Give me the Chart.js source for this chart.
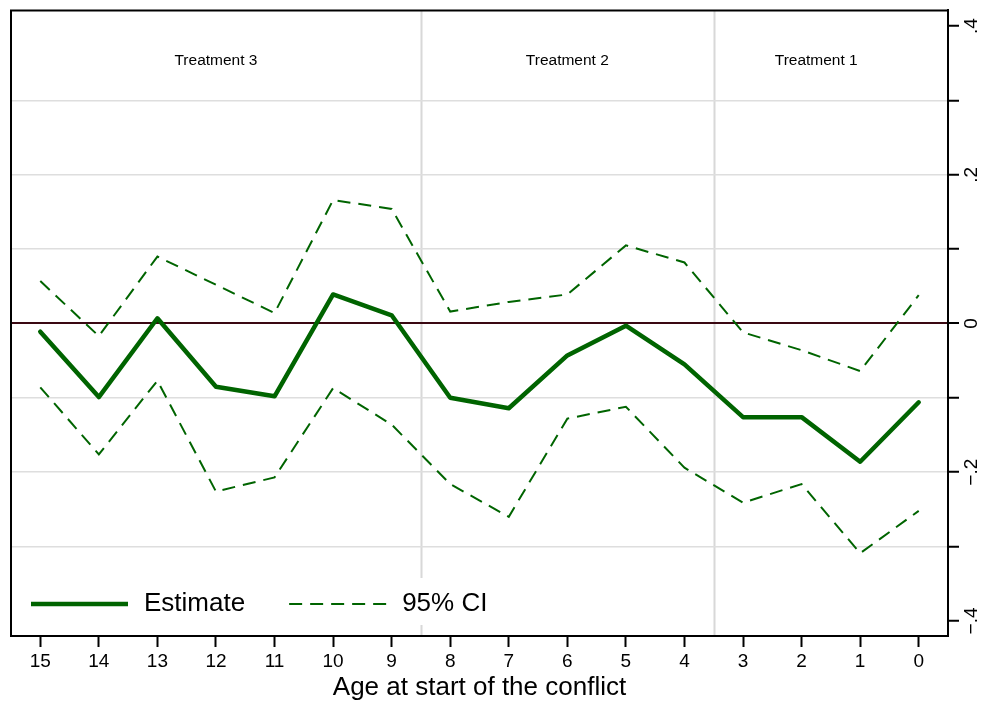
<!DOCTYPE html>
<html>
<head>
<meta charset="utf-8">
<script src="https://cdn.jsdelivr.net/npm/chart.js@4/dist/chart.umd.min.js"></script>
<style>
  html, body { margin: 0; padding: 0; background: #ffffff; }
  #wrap { width: 984px; height: 704px; position: relative; }
</style>
</head>
<body>
<div id="wrap"><canvas id="chart" width="984" height="704"></canvas></div>
<script>
// ---------------- data ----------------
const ages = ['15','14','13','12','11','10','9','8','7','6','5','4','3','2','1','0'];
const estimate = [-0.011, -0.099, 0.007, -0.085, -0.098, 0.039, 0.011, -0.100, -0.114, -0.043, -0.003, -0.055, -0.126, -0.126, -0.186, -0.106];
const ciUpper  = [0.057, -0.017, 0.090, 0.052, 0.014, 0.166, 0.154, 0.016, 0.029, 0.039, 0.105, 0.082, -0.012, -0.036, -0.064, 0.038];
const ciLower  = [-0.086, -0.176, -0.077, -0.226, -0.207, -0.087, -0.136, -0.216, -0.260, -0.128, -0.112, -0.194, -0.241, -0.216, -0.309, -0.252];
const yTickValues = [-0.4, -0.3, -0.2, -0.1, 0, 0.1, 0.2, 0.3, 0.4];
const yTickLabels = ['\u2212.4', '', '\u2212.2', '', '0', '', '.2', '', '.4'];
const groupNames = ['Treatment 3', 'Treatment 2', 'Treatment 1'];
const groupLabelAt = [3, 9, 13.25];      // category-index positions of the group captions
const groupBreaks = [6.5, 11.5];          // between age 9|8 and age 4|3
const xTitle = 'Age at start of the conflict';

// ---------------- styles ----------------
const FONT = '"Liberation Sans", Arial, Helvetica, sans-serif';
const GREEN = '#006400';
const ZERO = '#3a0812';
const GRID = '#dedede';
const SEP = '#d8d8d8';

Chart.defaults.font.family = FONT;
Chart.defaults.color = '#000';

const decor = {
  id: 'decor',
  beforeDraw(chart) {
    const {ctx, chartArea: a, scales: {x}} = chart;
    ctx.save();
    // group separators
    ctx.strokeStyle = SEP;
    ctx.lineWidth = 2;
    groupBreaks.forEach(b => {
      const px = Math.round(x.getPixelForValue(b)) + 0.5;
      ctx.beginPath();
      ctx.moveTo(px, a.top);
      ctx.lineTo(px, a.bottom);
      ctx.stroke();
    });
    // group captions
    ctx.fillStyle = '#000';
    ctx.font = '15.5px ' + FONT;
    ctx.textAlign = 'center';
    ctx.textBaseline = 'middle';
    groupNames.forEach((n, i) => {
      ctx.fillText(n, x.getPixelForValue(groupLabelAt[i]), 61);
    });
    ctx.restore();
  },
  beforeDatasetsDraw(chart) {
    const {ctx, chartArea: a} = chart;
    ctx.save();
    // legend background
    ctx.fillStyle = '#ffffff';
    ctx.fillRect(a.left + 1, 578, 494, 47);
    // legend items (from datasets)
    const items = chart.data.datasets.filter(d => !d.hideInLegend);
    ctx.font = '26px ' + FONT;
    ctx.textBaseline = 'middle';
    ctx.textAlign = 'left';
    let cx = a.left + 20;
    const cy = 604;
    const sampleLen = 97;
    items.forEach(d => {
      ctx.strokeStyle = d.borderColor;
      ctx.lineWidth = d.borderWidth;
      ctx.setLineDash(d.borderDash || []);
      ctx.beginPath();
      ctx.moveTo(cx, cy);
      ctx.lineTo(cx + sampleLen, cy);
      ctx.stroke();
      ctx.setLineDash([]);
      cx += sampleLen + 16;
      ctx.fillStyle = '#000';
      ctx.fillText(d.label, cx, cy);
      cx += ctx.measureText(d.label).width + 44;
    });
    ctx.restore();
  },
  afterDraw(chart) {
    const {ctx, chartArea: a} = chart;
    ctx.save();
    ctx.strokeStyle = '#000';
    ctx.lineWidth = 2;
    ctx.beginPath();
    ctx.moveTo(a.left, a.bottom);
    ctx.lineTo(a.left, a.top);
    ctx.lineTo(a.right, a.top);
    ctx.stroke();
    ctx.restore();
  }
};

new Chart(document.getElementById('chart'), {
  type: 'line',
  data: {
    labels: ages,
    datasets: [
      { label: 'Estimate', data: estimate, borderColor: GREEN, borderWidth: 4.5,
        pointRadius: 0, tension: 0, fill: false, borderJoinStyle: 'round', borderCapStyle: 'round' },
      { label: '95% CI', data: ciUpper, borderColor: GREEN, borderWidth: 2, borderDash: [13, 8],
        pointRadius: 0, tension: 0, fill: false },
      { label: '95% CI', data: ciLower, borderColor: GREEN, borderWidth: 2, borderDash: [13, 8],
        pointRadius: 0, tension: 0, fill: false, hideInLegend: true }
    ]
  },
  options: {
    responsive: false,
    animation: false,
    devicePixelRatio: 1,
    layout: { padding: { left: 11, top: 7.5, right: 0, bottom: 0 } },
    plugins: { legend: { display: false }, tooltip: { enabled: false } },
    scales: {
      x: {
        type: 'category',
        offset: true,
        afterFit: s => { s.height = 68; },
        grid: { display: true, drawOnChartArea: false, drawTicks: true, tickLength: 11,
                tickWidth: 2, tickColor: '#000', offset: false },
        border: { display: true, color: '#000', width: 2 },
        ticks: { font: { size: 19 }, color: '#000', padding: 3, maxRotation: 0, minRotation: 0, autoSkip: false },
        title: { display: true, text: xTitle, font: { size: 26 }, color: '#000',
                 padding: { top: 0, bottom: 1 } }
      },
      y: {
        type: 'linear',
        position: 'right',
        min: -0.4203,
        max: 0.4210,
        afterBuildTicks: s => { s.ticks = yTickValues.map(v => ({ value: v })); },
        afterFit: s => { s.width = 36; },
        grid: {
          drawTicks: true,
          tickLength: 11,
          tickWidth: 2,
          tickColor: '#000',
          color: c => {
            const v = c.tick ? c.tick.value : 1;
            if (Math.abs(v) > 0.35) return 'rgba(0,0,0,0)';
            if (Math.abs(v) < 1e-9) return ZERO;
            return GRID;
          },
          lineWidth: c => (c.tick && Math.abs(c.tick.value) < 1e-9) ? 2 : 1.5
        },
        border: { display: true, color: '#000', width: 2 },
        ticks: {
          minRotation: 90, maxRotation: 90, crossAlign: 'center', padding: -1,
          font: { size: 19 }, color: '#000',
          callback: (v, i) => yTickLabels[i]
        }
      }
    }
  },
  plugins: [decor]
});
</script>
</body>
</html>
